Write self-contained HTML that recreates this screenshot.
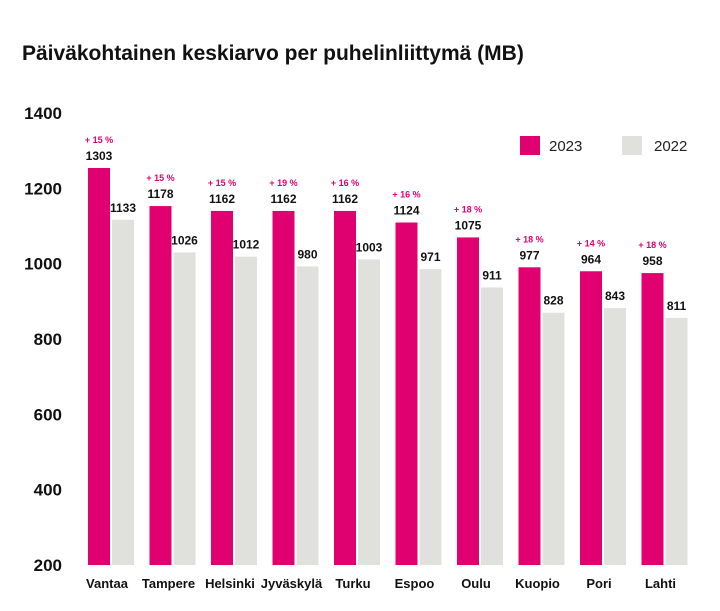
<!DOCTYPE html>
<html><head><meta charset="utf-8"><style>
body{margin:0;background:#fff;font-family:"Liberation Sans",sans-serif}
svg{display:block}
</style></head><body>
<svg id="chart" width="720" height="611">
<text x="22" y="60" font-size="21" font-weight="bold" fill="#111">Päiväkohtainen keskiarvo per puhelinliittymä (MB)</text>
<g>
<rect x="520" y="136" width="20" height="19" fill="#e0006f"/>
<text x="549" y="151" font-size="15" fill="#222">2023</text>
<rect x="622" y="136" width="20" height="19" fill="#e0e0dc"/>
<text x="654" y="151" font-size="15" fill="#222">2022</text>
</g>
</svg>
<script>
const categories=["Vantaa","Tampere","Helsinki","Jyväskylä","Turku","Espoo","Oulu","Kuopio","Pori","Lahti"];
const values2023=[1303,1178,1162,1162,1162,1124,1075,977,964,958];
const values2022=[1133,1026,1012,980,1003,971,911,828,843,811];
const changes=["+ 15 %","+ 15 %","+ 15 %","+ 19 %","+ 16 %","+ 16 %","+ 18 %","+ 18 %","+ 14 %","+ 18 %"];
const ticks=[200,400,600,800,1000,1200,1400];
const svg=document.getElementById('chart');
const NS='http://www.w3.org/2000/svg';
function yBar(v){return 565-v*0.3047;}
function yTick(v){return 565-(v-200)/1200*452;}
function xCenter(i){return 111+i*61.5;}
function mk(tag,attrs,txt){const e=document.createElementNS(NS,tag);for(const k in attrs)e.setAttribute(k,attrs[k]);if(txt!==undefined)e.textContent=txt;svg.appendChild(e);return e;}
ticks.forEach(t=>{
 const e=mk('text',{x:62,y:yTick(t)+6,'font-size':17,'font-weight':'bold','text-anchor':'end',fill:'#111'},t);
 
 
});
categories.forEach((c,i)=>{
 const cx=xCenter(i);
 const t1=yBar(values2023[i]), t2=yBar(values2022[i]);
 const b1=mk('rect',{x:cx-23,y:t1,width:22,height:565-t1,fill:'#e0006f'});
 
 
 const b2=mk('rect',{x:cx+1,y:t2,width:22,height:565-t2,fill:'#e0e0dc'});
 
 
 const p=mk('text',{x:cx-12,y:t1-25,'font-size':9,'font-weight':'bold','text-anchor':'middle',fill:'#e0006f'},changes[i]);
 
 
 const l1=mk('text',{x:cx-12,y:t1-8,'font-size':12,'font-weight':'bold','text-anchor':'middle',fill:'#111'},values2023[i]);
 
 
 const l2=mk('text',{x:cx+12,y:t2-8,'font-size':12,'font-weight':'bold','text-anchor':'middle',fill:'#111'},values2022[i]);
 
 
 const xl=mk('text',{x:cx-4,y:588,'font-size':13,'font-weight':'bold','text-anchor':'middle',fill:'#111'},c);
 
 
});
</script>
</body></html>
